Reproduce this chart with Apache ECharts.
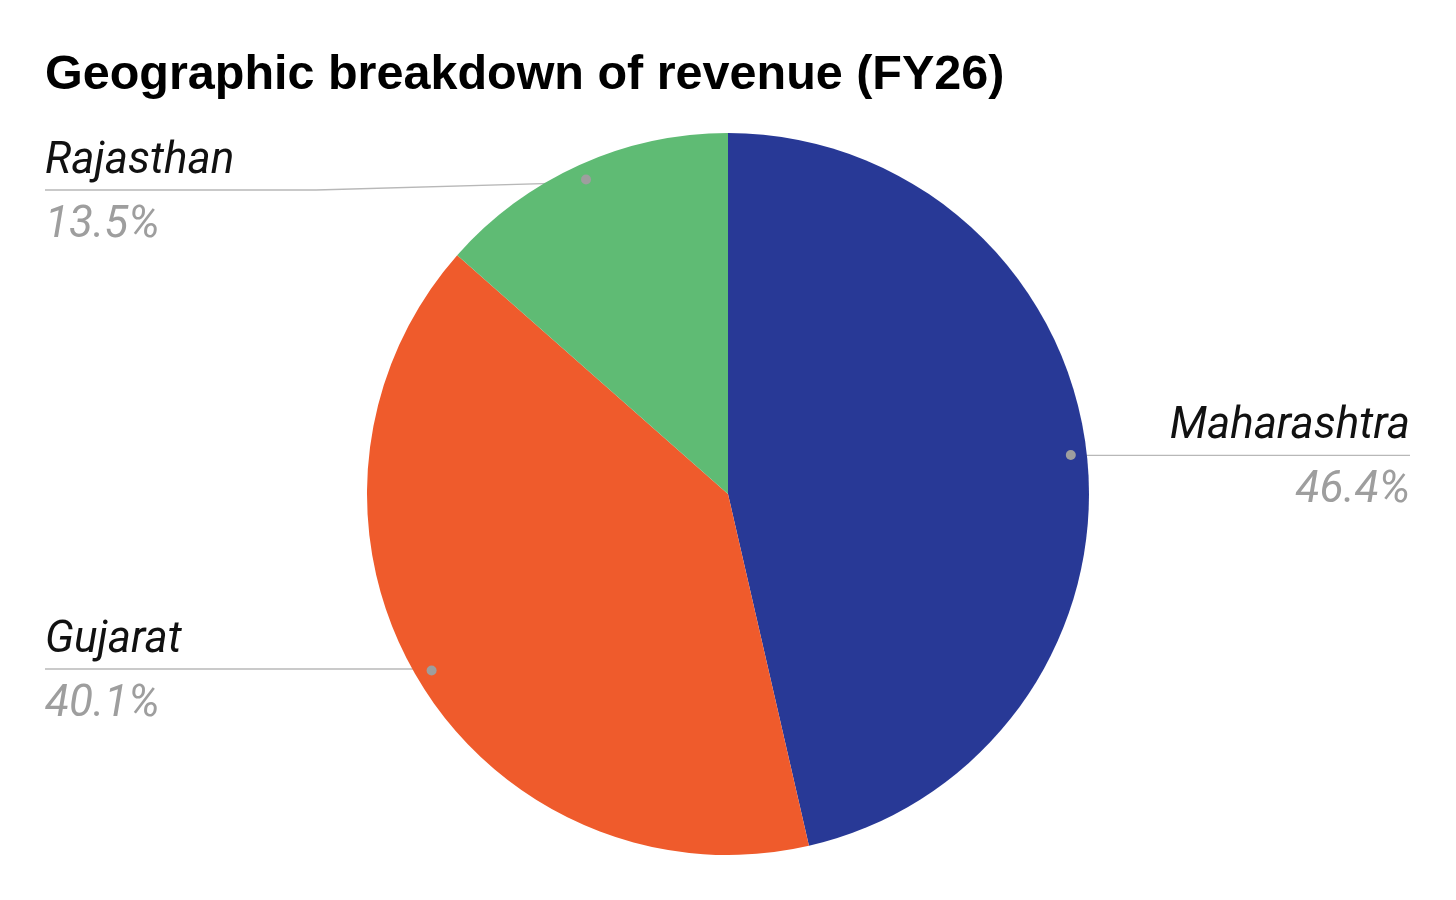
<!DOCTYPE html>
<html>
<head>
<meta charset="utf-8">
<script src="https://cdn.jsdelivr.net/npm/echarts@6/dist/echarts.min.js"></script>
<style>
html,body{margin:0;padding:0;background:#fff;}
#chart{width:1456px;height:900px;}
</style>
</head>
<body>
<div id="chart"></div>
<script>
const categories = ['Maharashtra', 'Gujarat', 'Rajasthan'];
const shares = [46.4, 40.1, 13.5];
const sliceColors = ['#283996', '#ef5b2c', '#5fbb74'];

const CENTER = [728, 494];
const R = 361;
const DOT_R = 342;
const EDGE = 45;
const MIN_LABEL_Y = 190;

const chart = echarts.init(document.getElementById('chart'), null, {renderer: 'canvas'});
const pieData = categories.map((c, i) => ({name: c, value: shares[i], itemStyle: {color: sliceColors[i]}}));

const option = {
  backgroundColor: '#ffffff',
  animation: false,
  title: {
    text: 'Geographic breakdown of revenue (FY26)',
    left: 40,
    top: 46,
    textStyle: {fontFamily: 'Liberation Sans, Arial, sans-serif', fontWeight: 'bold', fontSize: 48.5, color: '#000'}
  },
  series: [
    {
      type: 'pie',
      center: CENTER,
      radius: [0, R],
      startAngle: 90,
      clockwise: true,
      data: pieData,
      itemStyle: {borderWidth: 0},
      label: {
        show: true,
        position: 'outside',
        formatter: p => '{n|' + p.name + '}\n{p|' + p.value.toFixed(1) + '%}',
        rich: {
          n: {fontFamily: 'Roboto', fontStyle: 'italic', fontWeight: 'normal', fontSize: 44, lineHeight: 72, color: '#111111'},
          p: {fontFamily: 'Roboto', fontStyle: 'italic', fontWeight: 'normal', fontSize: 44, lineHeight: 56, color: '#9e9e9e'}
        }
      },
      labelLine: {show: true, length: 10, length2: 10, lineStyle: {color: '#b8b8b8', width: 1.3}},
      labelLayout: function (p) {
        const pts = p.labelLinePoints;
        if (!pts) return {};
        const W = chart.getWidth();
        const p0 = pts[0];
        const k = DOT_R / R;
        const dx = CENTER[0] + (p0[0] - CENTER[0]) * k;
        const dy = CENTER[1] + (p0[1] - CENTER[1]) * k;
        const isLeft = dx < CENTER[0];
        const farX = isLeft ? EDGE : W - EDGE - 1;
        const ly = Math.max(dy, MIN_LABEL_Y);
        return {
          x: farX,
          y: ly,
          align: isLeft ? 'left' : 'right',
          verticalAlign: 'middle',
          labelLinePoints: [[dx, dy], [(dx + farX) / 2, ly], [farX, ly]]
        };
      },
      emphasis: {disabled: true},
      silent: true,
      z: 2
    },
    {
      type: 'pie',
      center: CENTER,
      radius: [DOT_R - 6, DOT_R + 6],
      startAngle: 90,
      clockwise: true,
      data: pieData.map(d => ({name: d.name, value: d.value})),
      itemStyle: {color: 'rgba(0,0,0,0)', borderWidth: 0},
      label: {
        show: true,
        position: 'inside',
        formatter: ' ',
        fontSize: 1,
        width: 10,
        height: 10,
        padding: 0,
        backgroundColor: '#9e9e9e',
        borderRadius: 5
      },
      labelLine: {show: false},
      emphasis: {disabled: true},
      silent: true,
      z: 3
    }
  ]
};
chart.setOption(option);
</script>
</body>
</html>
